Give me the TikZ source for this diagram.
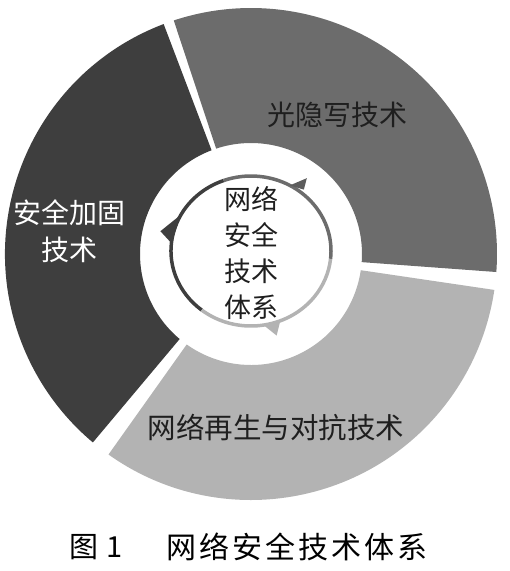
\documentclass[tikz,border=0pt]{standalone}
\usepackage{fontspec}
\setmainfont{Noto Sans CJK SC}
\newfontfamily\capfont[LetterSpace=10]{Noto Sans CJK SC}
\usetikzlibrary{positioning}
\definecolor{darkseg}{HTML}{3E3E3E}
\definecolor{midseg}{HTML}{6C6C6C}
\definecolor{lightseg}{HTML}{B3B3B3}

\begin{document}
\begin{tikzpicture}[x=1pt,y=1pt,
 lbl/.style={inner sep=0pt,align=center,text=black!88,font=\fontsize{28}{37}\selectfont},
 ring/.style={line width=3.5pt},
 captext/.style={inner sep=0pt,text=black,font=\fontsize{29}{29}\selectfont}]
 \useasboundingbox (-251,-317) rectangle (259,254);
 % segments
 \fill[darkseg] (110.8:246) arc[start angle=110.8,end angle=230,radius=246]
  -- (230:111) arc[start angle=230,end angle=110.8,radius=111] -- cycle;
 \fill[midseg] (-4.2:246) arc[start angle=-4.2,end angle=108.3,radius=246]
  -- (108.3:111) arc[start angle=108.3,end angle=-4.2,radius=111] -- cycle;
 \fill[lightseg] (234.6:246) arc[start angle=234.6,end angle=351.6,radius=246]
  -- (351.6:111) arc[start angle=351.6,end angle=234.6,radius=111] -- cycle;
 % inner ring
 \begin{scope}[shift={(0,3)}]
 \draw[ring,darkseg] (110:80 and 75) arc[start angle=110,end angle=232,x radius=80,y radius=75];
 \draw[ring,midseg] (-6:80 and 75) arc[start angle=-6,end angle=110,x radius=80,y radius=75];
 \draw[ring,lightseg] (232:80 and 75) arc[start angle=232,end angle=354,x radius=80,y radius=75];
 \fill[midseg!85!black] (61:80 and 75) -- (54:95 and 90) -- (51:84 and 79) -- cycle;
 \fill[darkseg] (151:80 and 75) -- (167:93 and 88) -- (174:80 and 75) -- cycle;
 \fill[lightseg] (-81:80 and 75) -- (-74:93 and 88) -- (-69:81 and 76) -- cycle;
 \end{scope}
 % labels
 \node[lbl] (guang) at (87,139) {光隐写技术};
 \node[lbl,text=white] (jiagu) at (-181.5,23) {安全加固\\技术};
 \node[lbl,font=\fontsize{28.5}{37}\selectfont] (zaisheng) at (25,-174) {网络再生与对抗技术};
 \node[lbl,font=\fontsize{27}{36}\selectfont] (core) at (1,0.5) {网络\\安全\\技术\\体系};
 % caption
 \node[captext] (fignum) at (-155,-293) {图\hspace{0.3em}1};
 \node[captext,font=\capfont\fontsize{30}{30}\selectfont] (figtitle) at (46,-293) {网络安全技术体系};
\end{tikzpicture}
\end{document}
